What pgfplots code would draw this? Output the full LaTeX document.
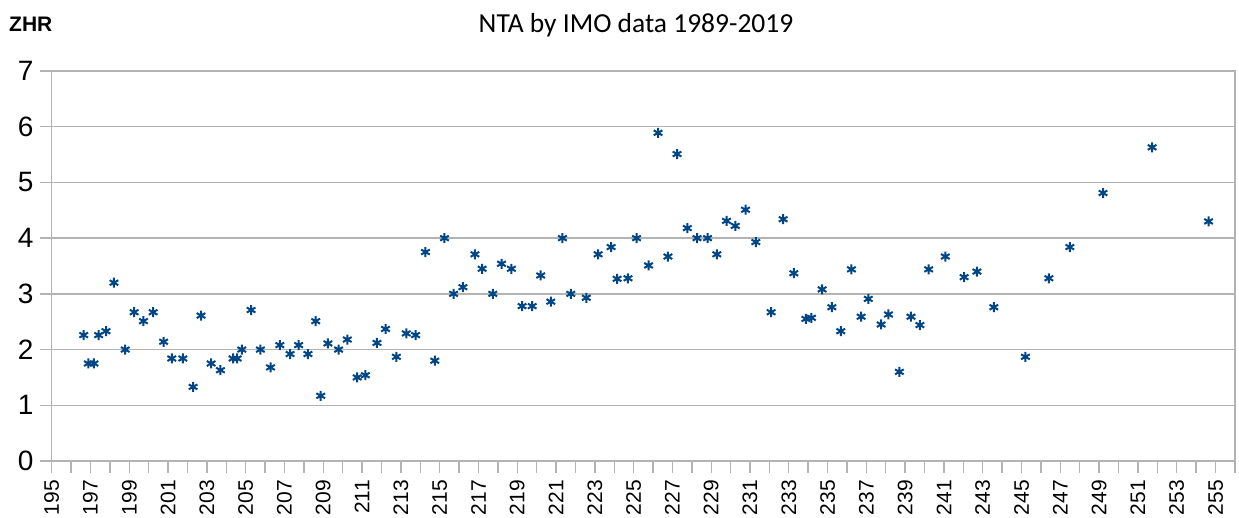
\documentclass[border=0pt]{standalone}
\usepackage{fontspec}
\setmainfont{Liberation Sans}
\newfontfamily\carlito{Carlito}
\usepackage{pgfplots}
\pgfplotsset{compat=1.18}
\definecolor{ptblue}{HTML}{004586}
\definecolor{gridgray}{HTML}{B3B3B3}
\begin{document}
\begin{tikzpicture}[x=1pt,y=1pt]
\useasboundingbox (-51.7,-57) rectangle (1187.3,461);
\begin{axis}[
  at={(0,0)}, anchor=south west,
  scale only axis,
  width=1183.3pt, height=390pt,
  xmin=195, xmax=256, ymin=0, ymax=7,
  xtick={195,197,...,255},
  minor xtick={196,198,...,256},
  ytick={0,...,7},
  ymajorgrids,
  grid style={gridgray, line width=1.4pt},
  axis line style={gridgray, line width=1.4pt},
  tick style={gridgray, line width=1.4pt},
  tick align=outside,
  major tick length=12pt, minor tick length=12pt,
  xtick pos=bottom, ytick pos=left,
  /pgf/number format/assume math mode=true,
  /pgf/number format/1000 sep={},
  xticklabel style={yshift=-7pt, rotate=90, anchor=east, inner sep=0pt, font=\fontsize{21}{22}\selectfont},
  yticklabel style={xshift=-6pt, anchor=east, inner sep=0pt, font=\fontsize{28}{30}\selectfont},
  clip=false,
]
\addplot[only marks, mark=asterisk, mark size=5pt, ptblue, mark options={line width=2pt}] coordinates {
(196.65,2.26) (196.89,1.75) (197.18,1.75) (197.42,2.26) (197.80,2.33)
(198.21,3.20) (198.79,2.00) (199.25,2.67) (199.73,2.51) (200.23,2.67)
(200.77,2.14) (201.19,1.84) (201.76,1.84) (202.29,1.33) (202.70,2.61)
(203.22,1.75) (203.70,1.63) (204.35,1.84) (204.56,1.84) (204.80,2.00)
(205.28,2.71) (205.76,2.00) (206.28,1.68) (206.76,2.08) (207.29,1.92)
(207.73,2.08) (208.21,1.92) (208.61,2.51) (208.87,1.17) (209.24,2.11)
(209.79,2.00) (210.24,2.18) (210.75,1.50) (211.17,1.54) (211.77,2.12)
(212.21,2.37) (212.77,1.87) (213.28,2.29) (213.76,2.26) (214.27,3.75)
(214.75,1.80) (215.25,4.00) (215.72,3.00) (216.20,3.12) (216.82,3.71)
(217.19,3.45) (217.74,3.00) (218.19,3.54) (218.70,3.45) (219.25,2.78)
(219.77,2.78) (220.21,3.33) (220.73,2.86) (221.33,4.00) (221.76,3.00)
(222.56,2.93) (223.17,3.71) (223.84,3.84) (224.15,3.27) (224.71,3.28)
(225.15,4.00) (225.77,3.51) (226.26,5.89) (226.77,3.67) (227.24,5.51)
(227.77,4.18) (228.27,4.00) (228.81,4.00) (229.29,3.71) (229.79,4.31)
(230.24,4.22) (230.77,4.51) (231.30,3.93) (232.09,2.67) (232.71,4.34)
(233.26,3.37) (233.88,2.55) (234.17,2.57) (234.72,3.08) (235.22,2.76)
(235.68,2.33) (236.23,3.44) (236.73,2.59) (237.10,2.91) (237.76,2.45)
(238.14,2.63) (238.70,1.60) (239.30,2.59) (239.76,2.44) (240.21,3.44)
(241.07,3.67) (242.04,3.30) (242.70,3.40) (243.57,2.76) (245.20,1.87)
(246.41,3.28) (247.49,3.84) (249.20,4.81) (251.73,5.63) (254.64,4.30)
};
\end{axis}
\node[anchor=base west, inner sep=0pt, font=\bfseries\fontsize{21}{22}\selectfont] at (-42.7,429.3) {ZHR};
\node[anchor=base, inner sep=0pt, font=\carlito\fontsize{27.5}{29}\selectfont] at (584.3,428) {NTA by IMO data 1989-2019};
\end{tikzpicture}
\end{document}
